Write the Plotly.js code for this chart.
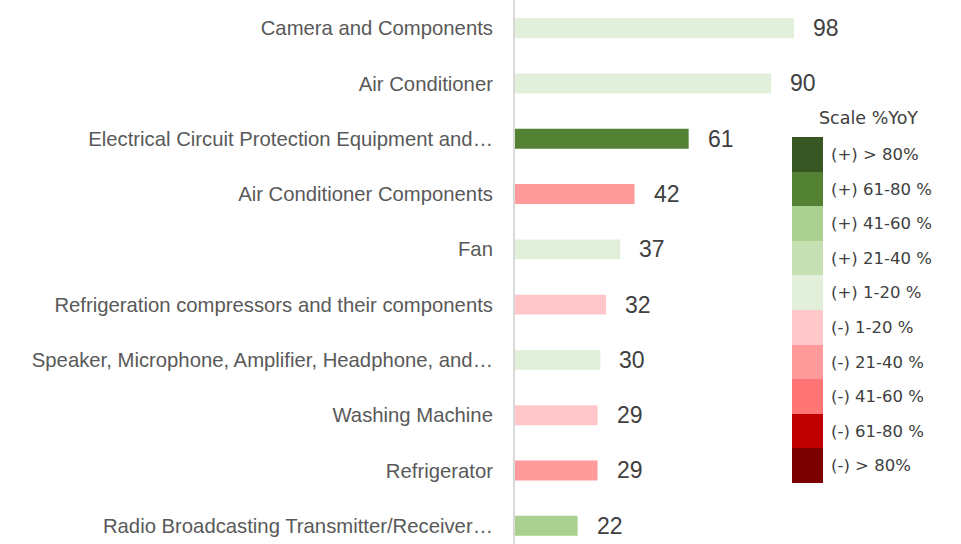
<!DOCTYPE html>
<html>
<head>
<meta charset="utf-8">
<script src="https://cdn.plot.ly/plotly-3.0.1.min.js"></script>
<style>html,body{margin:0;padding:0;background:#fff;}#chart{width:961px;height:544px;}</style>
</head>
<body>
<div id="chart"></div>
<script>
const categories = [
  "Camera and Components",
  "Air Conditioner",
  "Electrical Circuit Protection Equipment and…",
  "Air Conditioner Components",
  "Fan",
  "Refrigeration compressors and their components",
  "Speaker, Microphone, Amplifier, Headphone, and…",
  "Washing Machine",
  "Refrigerator",
  "Radio Broadcasting Transmitter/Receiver…"
];
const values = [98, 90, 61, 42, 37, 32, 30, 29, 29, 22];
// scale class of each bar (index into legend)
const barClass = [4, 4, 1, 6, 4, 5, 4, 5, 6, 2];

const legendTitle = "Scale %YoY";
const legendLabels = [
  "(+) > 80%", "(+) 61-80 %", "(+) 41-60 %", "(+) 21-40 %", "(+) 1-20 %",
  "(-) 1-20 %", "(-) 21-40 %", "(-) 41-60 %", "(-) 61-80 %", "(-) > 80%"
];
const legendColors = [
  "#375623", "#548235", "#A9D08E", "#C6E0B4", "#E2EFDA",
  "#FFC7C9", "#FF9B9B", "#FF7575", "#C00000", "#7B0000"
];

const W = 961, H = 544;
const labelFont = "Liberation Sans, Arial, sans-serif";
const legendFont = "DejaVu Sans, Verdana, sans-serif";

const barTrace = {
  type: "bar",
  orientation: "h",
  x: values,
  y: categories,
  marker: { color: barClass.map(c => legendColors[c]) },
  hoverinfo: "none",
  xaxis: "x",
  yaxis: "y"
};

const legendTrace = {
  type: "heatmap",
  x: [0],
  y: legendLabels,
  z: legendLabels.map((_, i) => [i]),
  zmin: 0,
  zmax: legendLabels.length - 1,
  colorscale: legendColors.map((c, i) => [i / (legendColors.length - 1), c]),
  showscale: false,
  hoverinfo: "none",
  xaxis: "x2",
  yaxis: "y2"
};

const annotations = values.map((v, i) => ({
  x: v, y: categories[i], xref: "x", yref: "y",
  text: String(v), showarrow: false,
  xanchor: "left", xshift: 17,
  font: { family: labelFont, size: 23, color: "#404040" }
}));
annotations.push({
  x: 868 / W, y: 1 - 118 / H, xref: "paper", yref: "paper",
  text: legendTitle, showarrow: false,
  xanchor: "center", yanchor: "middle",
  font: { family: legendFont, size: 17.5, color: "#404040" }
});

const layout = {
  width: W, height: H,
  margin: { l: 0, r: 0, t: 0, b: 0 },
  paper_bgcolor: "#ffffff",
  plot_bgcolor: "rgba(0,0,0,0)",
  showlegend: false,
  bargap: 0.64,
  xaxis: {
    domain: [515 / W, 1],
    range: [0, (W - 515) / 2.847],
    showgrid: false, zeroline: false, showline: false,
    showticklabels: false, ticks: "", fixedrange: true
  },
  yaxis: {
    type: "category",
    range: [9.33, -0.51],
    showgrid: false, zeroline: false,
    showline: true, linecolor: "#D9D9D9", linewidth: 2,
    ticks: "", ticklabelstandoff: 16,
    tickfont: { family: labelFont, size: 20.3, color: "#595959" },
    fixedrange: true
  },
  xaxis2: {
    domain: [792 / W, 823 / W],
    anchor: "y2",
    showgrid: false, zeroline: false, showline: false,
    showticklabels: false, ticks: "", fixedrange: true
  },
  yaxis2: {
    domain: [1 - 483 / H, 1 - 137 / H],
    anchor: "x2",
    side: "right",
    type: "category",
    autorange: "reversed",
    showgrid: false, zeroline: false, showline: false,
    ticks: "", ticklabelstandoff: 7,
    tickfont: { family: legendFont, size: 16.5, color: "#404040" },
    fixedrange: true
  },
  annotations: annotations
};

Plotly.newPlot("chart", [barTrace, legendTrace], layout, { displayModeBar: false, staticPlot: true });
</script>
</body>
</html>
